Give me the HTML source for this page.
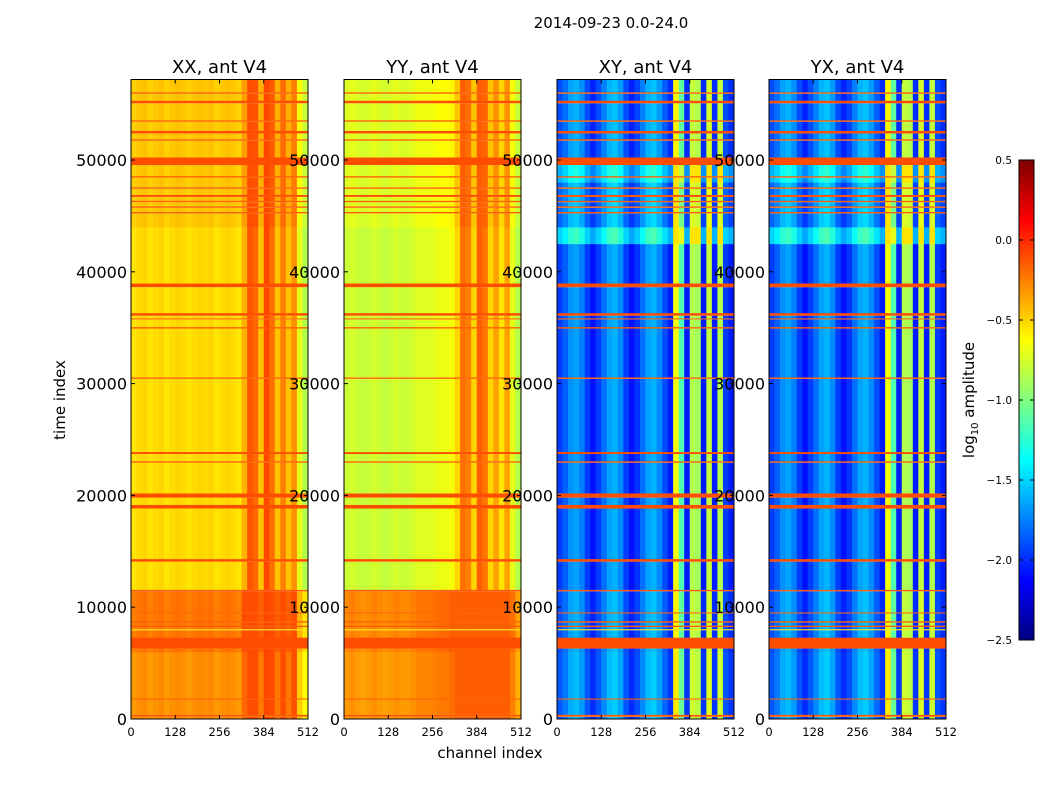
<!DOCTYPE html>
<html><head><meta charset="utf-8">
<style>
body{margin:0;background:#fff;}
svg{display:block;font-family:"DejaVu Sans","Liberation Sans",sans-serif;}
</style></head>
<body>
<svg id="chart" width="1050" height="800" xmlns="http://www.w3.org/2000/svg">
<rect width="1050" height="800" fill="#fff"/>
<text x="611" y="28" font-size="15" text-anchor="middle">2014-09-23 0.0-24.0</text>
<g id="panels"></g>
<text x="490" y="758" font-size="15" text-anchor="middle">channel index</text>
<text x="0" y="0" font-size="15" text-anchor="middle" transform="translate(65,400) rotate(-90)">time index</text>
<g id="cbar"></g>
<text x="0" y="0" font-size="15" text-anchor="middle" transform="translate(974,400) rotate(-90)">log<tspan font-size="10" dy="4">10</tspan><tspan dy="-4"> amplitude</tspan></text>
</svg>
<script>
// ---- data ----
const panelTitles = ["XX, ant V4","YY, ant V4","XY, ant V4","YX, ant V4"];
const xTicks = [0,128,256,384,512];
const yTicks = [0,10000,20000,30000,40000,50000];
const cbarTicks = [0.5,0.0,-0.5,-1.0,-1.5,-2.0,-2.5];
const cbarTickLabels = ["0.5","0.0","\u22120.5","\u22121.0","\u22121.5","\u22122.0","\u22122.5"];
// channel profiles, 32 bins of 16 channels (log10 amplitude)
const profileXX = [-0.55,-0.52,-0.5,-0.55,-0.52,-0.5,-0.55,-0.52,-0.5,-0.52,-0.55,-0.52,-0.5,-0.52,-0.5,-0.55,-0.52,-0.5,-0.52,-0.55,-0.4,-0.12,-0.18,-0.45,-0.08,-0.2,-0.45,-0.25,-0.45,-0.3,-0.7,-0.85];
const profileYY = [-0.78,-0.75,-0.78,-0.8,-0.78,-0.75,-0.78,-0.8,-0.78,-0.75,-0.78,-0.78,-0.75,-0.72,-0.72,-0.72,-0.7,-0.68,-0.68,-0.65,-0.5,-0.2,-0.25,-0.5,-0.15,-0.22,-0.5,-0.35,-0.55,-0.35,-0.7,-0.85];
const profileXY = [-1.95,-1.85,-1.7,-1.65,-1.75,-1.95,-2.08,-1.95,-1.8,-1.65,-1.6,-1.72,-1.95,-2.08,-1.98,-1.8,-1.65,-1.6,-1.72,-1.9,-2.05,-0.65,-1.15,-2.05,-0.85,-0.9,-2.05,-0.8,-2.05,-0.85,-1.95,-2.05];
const profileYX = [-1.95,-1.85,-1.7,-1.65,-1.75,-1.95,-2.08,-1.95,-1.8,-1.65,-1.6,-1.72,-1.95,-2.08,-1.98,-1.8,-1.65,-1.6,-1.72,-1.9,-2.05,-0.65,-1.15,-2.05,-0.85,-0.9,-2.05,-0.8,-2.05,-0.85,-1.95,-2.05];
// time-range offsets [start, end, offset]
const offsetsXX = [[0,6000,0.22],[6000,11500,0.3],[11500,44000,0],[44000,57200,0.06]];
const offsetsYY = [[0,6000,0.45],[6000,11500,0.5],[11500,44000,0],[44000,57200,0.05]];
const offsetsXY = [[0,6000,0.08],[6000,11500,0.05],[11500,42500,0],[42500,44000,0.45],[44000,48000,0.12],[48000,50000,0.35],[50000,57200,0.05]];
const offsetsYX = [[0,6000,0.08],[6000,11500,0.05],[11500,42500,0],[42500,44000,0.45],[44000,48000,0.12],[48000,50000,0.35],[50000,57200,0.05]];
// max value caps per panel (saturation of the display)
const capValues = [-0.1,-0.15,-0.55,-0.55];
// horizontal stripes shared by all panels [time, thickness, value]
const stripeTimes = [300,1800,6800,8000,8300,8700,9500,11500,14200,19000,20000,23000,23800,30500,35000,35800,36200,38800,45300,45800,46300,46800,47500,48500,49900,51800,52500,53500,55200,56000];
const stripeWidths = [200,120,1000,120,150,150,120,150,250,350,400,150,200,150,150,120,250,350,150,150,150,200,150,150,700,150,250,150,250,150];
const stripeValues = [-0.15,-0.15,-0.1,-0.55,-0.15,-0.15,-0.15,-0.1,-0.1,-0.1,-0.1,-0.15,-0.1,-0.15,-0.15,-0.15,-0.1,-0.1,-0.15,-0.15,-0.15,-0.1,-0.15,-0.15,-0.1,-0.15,-0.1,-0.15,-0.1,-0.15];

// ---- axes ----
const panelX = [131,344,557,769], panelW = 177;
const yTop = 79.5, yBot = 719, tMax = 57200, chMax = 512;
function yScale(t){ return yBot - t*(yBot-yTop)/tMax; }
function xScale(p,ch){ return panelX[p] + ch*panelW/chMax; }
const vmin=-2.5, vmax=0.5;
function jet(v){
  let t=(v-vmin)/(vmax-vmin); t=Math.max(0,Math.min(1,t));
  const f=(x)=>Math.max(0,Math.min(1,x));
  const r=f(1.5-Math.abs(4*t-3)), g=f(1.5-Math.abs(4*t-2)), b=f(1.5-Math.abs(4*t-1));
  return `rgb(${Math.round(r*255)},${Math.round(g*255)},${Math.round(b*255)})`;
}
const NS="http://www.w3.org/2000/svg";
function el(tag,attrs,parent){const e=document.createElementNS(NS,tag);for(const k in attrs)e.setAttribute(k,attrs[k]);parent.appendChild(e);return e;}

const profiles=[profileXX,profileYY,profileXY,profileYX];
const offsets=[offsetsXX,offsetsYY,offsetsXY,offsetsYX];
const gp=document.getElementById('panels');

function rowValueOffset(p,t){
  for(const o of offsets[p]) if(t>=o[0]&&t<o[1]) return o[2];
  return 0;
}
function stripeAt(t){
  for(let i=0;i<stripeTimes.length;i++){
    if(t>=stripeTimes[i]-stripeWidths[i]/2 && t<stripeTimes[i]+stripeWidths[i]/2) return stripeValues[i];
  }
  return null;
}

for(let p=0;p<4;p++){
  const g=el('g',{},gp);
  
  
  let bps=[0,tMax];
  offsets[p].forEach(o=>{bps.push(o[0],o[1]);});
  stripeTimes.forEach((s,i)=>{bps.push(s-stripeWidths[i]/2,s+stripeWidths[i]/2);});
  bps=bps.filter(b=>b>=0&&b<=tMax).sort((a,b)=>a-b);
  bps=bps.filter((b,i)=>i==0||b>bps[i-1]);
  const prof=profiles[p], nb=prof.length;
  for(let k=0;k<bps.length-1;k++){
    const t0=bps[k],t1=bps[k+1],tm=(t0+t1)/2;
    const sv=stripeAt(tm);
    const ya=yScale(t1), yb=yScale(t0);
    if(sv!==null){
      const r=el('rect',{x:xScale(p,0),y:ya,width:panelW,height:Math.max(0.6,yb-ya),fill:jet(sv)},g);
      
      
      continue;
    }
    const off=rowValueOffset(p,tm);
    for(let c=0;c<nb;c++){
      const xa=xScale(p,c*chMax/nb), xb=xScale(p,(c+1)*chMax/nb);
      let v=prof[c]+off;
      if(off>0) v=Math.min(v,Math.max(prof[c],capValues[p]));
      const r=el('rect',{x:xa,y:ya,width:xb-xa+0.3,height:yb-ya+0.3,fill:jet(v)},g);
      
      
    }
  }
  const fr=el('rect',{x:panelX[p],y:yTop,width:panelW,height:yBot-yTop,fill:'none',stroke:'#000','stroke-width':1},g);
  
  
  const tt=el('text',{x:panelX[p]+panelW/2,y:73,'font-size':18,'text-anchor':'middle'},g);
  tt.textContent=panelTitles[p];
  
  
  xTicks.forEach(v=>{
    const x=xScale(p,v);
    el('line',{x1:x,x2:x,y1:yBot,y2:yBot-4,stroke:'#000'},g);
    el('line',{x1:x,x2:x,y1:yTop,y2:yTop+4,stroke:'#000'},g);
    const lt=el('text',{x:x,y:736,'font-size':11.5,'text-anchor':'middle'},g);
    lt.textContent=String(v);
    
    
  });
  yTicks.forEach(v=>{
    const y=yScale(v);
    el('line',{x1:panelX[p],x2:panelX[p]+4,y1:y,y2:y,stroke:'#000'},g);
    el('line',{x1:panelX[p]+panelW,x2:panelX[p]+panelW-4,y1:y,y2:y,stroke:'#000'},g);
    const lt=el('text',{x:panelX[p]-4,y:y+6,'font-size':16,'text-anchor':'end'},g);
    lt.textContent=String(v);
    
    
  });
}

// colorbar
const cb=document.getElementById('cbar');


const cbX=1019,cbW=15,cbTop=160,cbBot=640;
function cScale(v){return cbBot-(v-vmin)*(cbBot-cbTop)/(vmax-vmin);}
for(let i=0;i<120;i++){
  const v0=vmin+i*(vmax-vmin)/120, v1=vmin+(i+1)*(vmax-vmin)/120;
  el('rect',{x:cbX,y:cScale(v1),width:cbW,height:cScale(v0)-cScale(v1)+0.5,fill:jet((v0+v1)/2)},cb);
}
el('rect',{x:cbX,y:cbTop,width:cbW,height:cbBot-cbTop,fill:'none',stroke:'#000'},cb);
cbarTicks.forEach((v,i)=>{
  const y=cScale(v);
  el('line',{x1:cbX,x2:cbX+4,y1:y,y2:y,stroke:'#000'},cb);
  el('line',{x1:cbX+cbW,x2:cbX+cbW-4,y1:y,y2:y,stroke:'#000'},cb);
  const t=el('text',{x:1012,y:y+4,'font-size':10.5,'text-anchor':'end'},cb);
  t.textContent=cbarTickLabels[i];
  
  
});
</script>
</body></html>
